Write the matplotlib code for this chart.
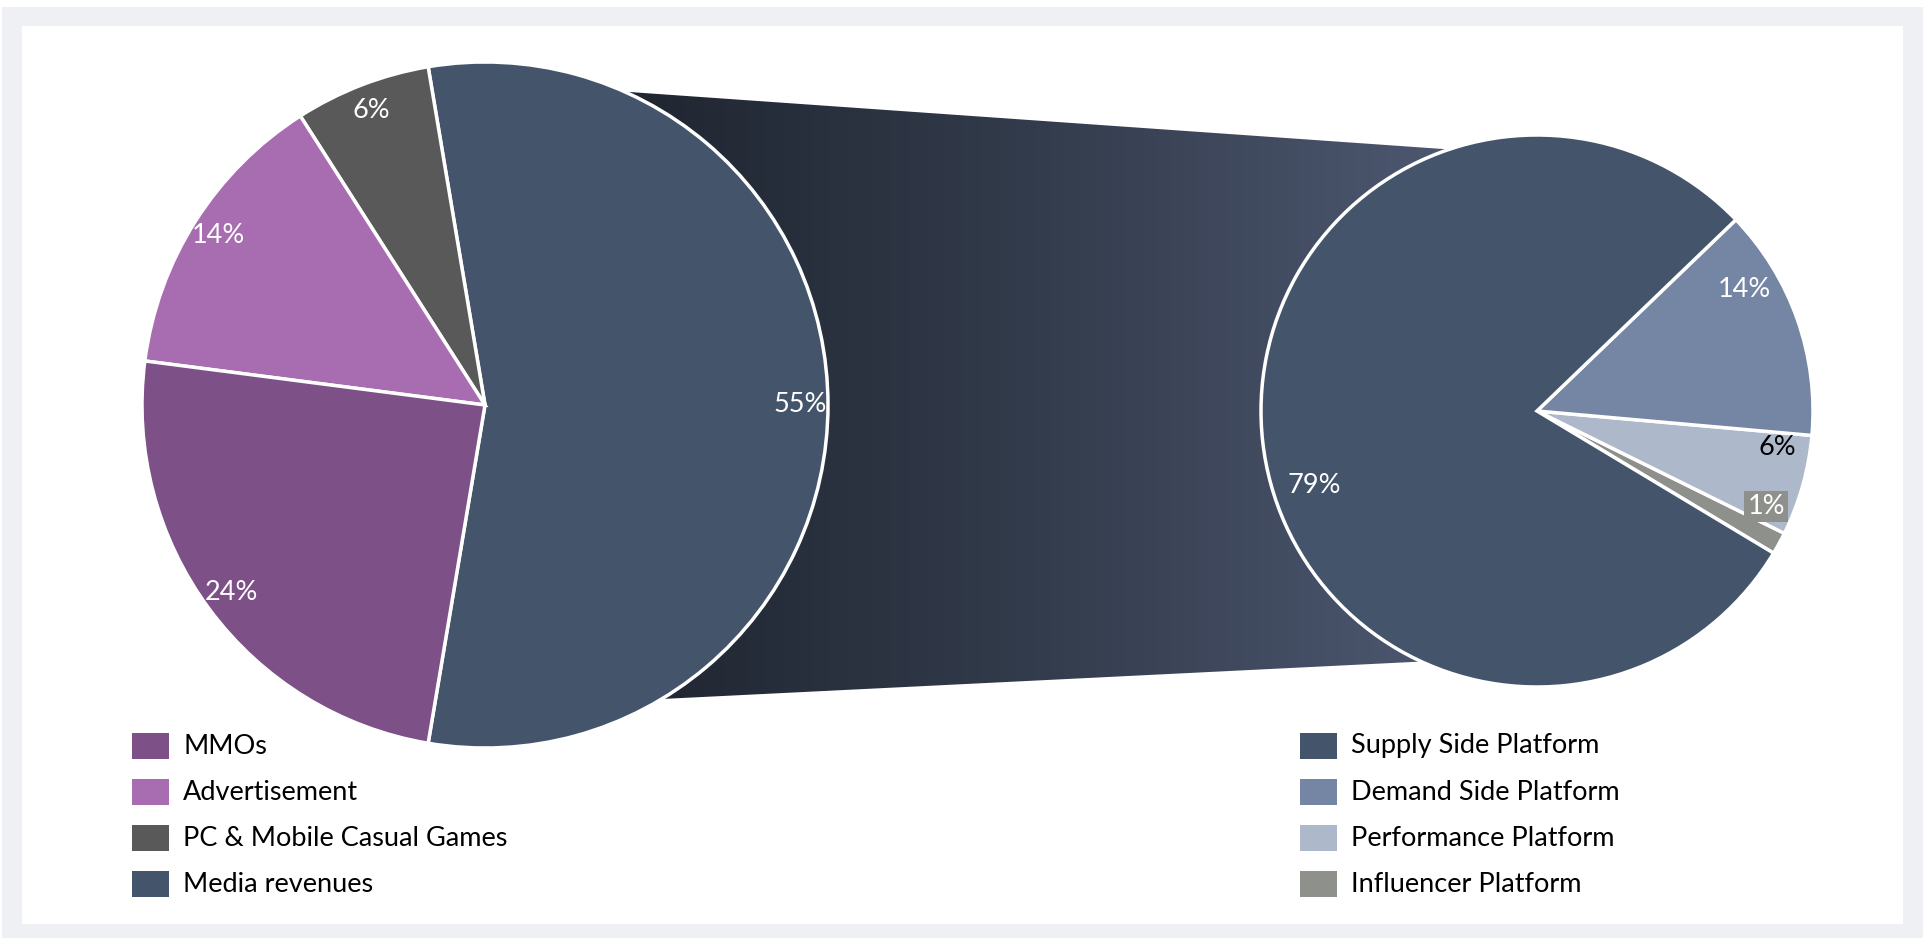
import numpy as np
import matplotlib.pyplot as plt
from matplotlib.patches import Rectangle, Polygon
from matplotlib.colors import LinearSegmentedColormap

plt.rcParams['font.family'] = ['Lato', 'DejaVu Sans']

# main pie: revenue split (legend order)
main_labels = ['MMOs', 'Advertisement', 'PC & Mobile Casual Games', 'Media revenues']
main_values = [24.4, 13.9, 6.4, 55.3]
main_colors = ['#7D5088', '#A86CB0', '#595959', '#44546A']

# secondary pie: breakdown of media revenues (legend order)
media_labels = ['Supply Side Platform', 'Demand Side Platform',
                'Performance Platform', 'Influencer Platform']
media_values = [79.2, 13.6, 5.9, 1.3]
media_colors = ['#44546A', '#7486A4', '#ADB9CA', '#8E908B']
media_text_colors = ['white', 'white', 'black', 'white']

W, H = 1928, 944
BORDER = '#EFF0F4'
FS = 19.5

# geometry in pixel units (y up)
L_C, L_R = (485, 539), 343
R_C, R_R = (1537, 533), 276
R_START = -31
# label nudges for the second pie (deg, fraction of radius), Excel-like placement
R_LABEL_SHIFT = [12, 11, 7, 6]
R_LABEL_DIST = [0.85, 0.87, 0.88, 0.90]

fig = plt.figure(figsize=(W / 100, H / 100), dpi=100, facecolor='white')
ax = fig.add_axes([0, 0, 1, 1])


def on_circle(c, r, deg):
    t = np.radians(deg)
    return (c[0] + r * np.cos(t), c[1] + r * np.sin(t))


# frame
ax.add_patch(Rectangle((2, 6), 1921, 931, facecolor=BORDER, edgecolor='none', zorder=0))
ax.add_patch(Rectangle((22, 20), 1881, 898, facecolor='white', edgecolor='none', zorder=0))

# gradient connector between the pies
pts = [L_C, on_circle(L_C, L_R, 66), on_circle(R_C, R_R, 108.6), R_C,
       on_circle(R_C, R_R, -114.8), on_circle(L_C, L_R, -59)]
poly = Polygon(pts, closed=True, facecolor='none', edgecolor='none')
ax.add_patch(poly)
xs = np.linspace(L_C[0], R_C[0], 600)
grad = np.clip((xs - 620) / (1450 - 620), 0, 1)[None, :]
cmap = LinearSegmentedColormap.from_list('conn', ['#1F2530', '#333C4C', '#4D5770'])
im = ax.imshow(grad, cmap=cmap, aspect='auto', extent=(L_C[0], R_C[0], 230, 870),
               origin='lower', zorder=1, interpolation='bilinear')
im.set_clip_path(poly)

# main pie (drawn counter-clockwise, media revenues centred on the right)
vals = main_values[::-1]
start = -vals[0] / sum(vals) * 180
wedges, texts, autotexts = ax.pie(
    vals, colors=main_colors[::-1], startangle=start, counterclock=True,
    center=L_C, radius=L_R, autopct='%.0f%%', pctdistance=0.92,
    wedgeprops=dict(edgecolor='white', linewidth=2.5),
    textprops=dict(color='white', fontsize=FS))
for w in wedges:
    w.set_zorder(2)
for t in autotexts:
    t.set_zorder(4)

# secondary pie
vals2 = media_values[::-1]
wedges2, _ = ax.pie(
    vals2, colors=media_colors[::-1], startangle=R_START, counterclock=True,
    center=R_C, radius=R_R,
    wedgeprops=dict(edgecolor='white', linewidth=2.5))
for w in wedges2:
    w.set_zorder(2)
for i, w in enumerate(wedges2[::-1]):
    mid = (w.theta1 + w.theta2) / 2 + R_LABEL_SHIFT[i]
    x, y = on_circle(R_C, R_R * R_LABEL_DIST[i], mid)
    kw = {}
    if i == 3:
        kw['bbox'] = dict(boxstyle='square,pad=0.12', facecolor=media_colors[3], edgecolor='none')
    ax.text(x, y, f'{media_values[i]:.0f}%', color=media_text_colors[i], fontsize=FS,
            ha='center', va='center', zorder=4, **kw)

# legends
for col_x, labels, colors in [(132, main_labels, main_colors),
                              (1300, media_labels, media_colors)]:
    for i, (lab, c) in enumerate(zip(labels, colors)):
        yc = 198 - i * 46
        ax.add_patch(Rectangle((col_x, yc - 13), 37, 26, facecolor=c, edgecolor='none', zorder=3))
        ax.text(col_x + 51, yc, lab, fontsize=19.5, color='black', ha='left', va='center', zorder=3)

ax.set_xlim(0, W)
ax.set_ylim(0, H)
ax.set_aspect('auto')
ax.axis('off')

fig.savefig('out.png', dpi=100, facecolor='white')
